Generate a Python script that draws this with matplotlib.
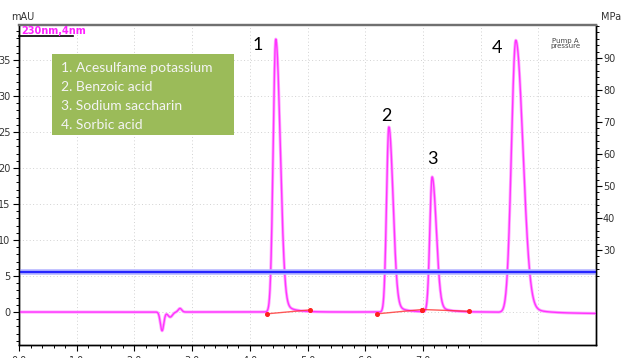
import numpy as np
import matplotlib
matplotlib.use("Agg")
import matplotlib.pyplot as plt
from matplotlib.patches import Rectangle
from matplotlib.ticker import FixedLocator

# ===============================
# DATA
# ===============================
# peaks: retention time (min), height (mAU), left / right width, tail fraction, tail constant
peak_labels = ["1", "2", "3", "4"]
peak_rt = [4.45, 6.41, 7.16, 8.61]
peak_height = [37.9, 25.7, 18.75, 37.8]
peak_sl = [0.045, 0.040, 0.040, 0.075]
peak_sr = [0.075, 0.070, 0.070, 0.120]
peak_tail = [0.06, 0.07, 0.07, 0.05]
peak_tau = [0.17, 0.16, 0.18, 0.22]

compound_names = ["1. Acesulfame potassium", "2. Benzoic acid",
                  "3. Sodium saccharin", "4. Sorbic acid"]

# injection disturbance around 2.5 min
dist_t = [2.48, 2.62, 2.79]
dist_h = [-2.6, -0.7, 0.5]
dist_w = [0.030, 0.040, 0.030]

# baseline drift points
drift_t = [0.0, 8.0, 10.0]
drift_y = [0.0, 0.0, -0.2]

# integration baselines (start, end)
integ_t0 = [4.30, 6.21, 6.99]
integ_y0 = [-0.25, -0.25, 0.35]
integ_t1 = [5.05, 6.99, 7.80]
integ_y1 = [0.30, 0.35, 0.10]

pump_pressure = 23.1  # MPa

x_labels = ["0.0", "1.0", "2.0", "3.0", "4.0", "5.0", "6.0", "7.0"]

# ===============================
# BUILD TRACE
# ===============================
t = np.linspace(0, 10, 4001)
signal = np.interp(t, drift_t, drift_y)
for rt, h, sl, sr, fr, tau in zip(peak_rt, peak_height, peak_sl, peak_sr, peak_tail, peak_tau):
    s = np.where(t < rt, sl, sr)
    g = np.exp(-0.5 * ((t - rt) / s) ** 2)
    tail = np.where(t >= rt, np.exp(-(t - rt) / tau), 0.0) * (1 - np.exp(-((t - rt) / sr) ** 2))
    signal += h * g + h * fr * tail
for dt, dh, dw in zip(dist_t, dist_h, dist_w):
    signal += dh * np.exp(-0.5 * ((t - dt) / dw) ** 2)

# ===============================
# FIGURE
# ===============================
W, H = 627, 358
fig = plt.figure(figsize=(W / 100, H / 100), dpi=100)
px = lambda x, y: (x / W, 1 - y / H)

x0, x1, y0, y1 = 19, 596, 25, 345
ax = fig.add_axes([x0 / W, 1 - y1 / H, (x1 - x0) / W, (y1 - y0) / H])
ax.set_xlim(0, 10)
ax.set_ylim(-4.58, 39.86)

# dotted grid
grid_kw = dict(color="#d2d2d2", lw=0.7, ls=(0, (1, 2.5)), zorder=0)
for gx in range(1, 10):
    ax.axvline(gx, **grid_kw)
for gy in range(0, 40, 5):
    ax.axhline(gy, **grid_kw)

# pressure trace on the right axis
ax2 = ax.twinx()
ax2.set_ylim(0.31, 100.3)
ax2.axhline(pump_pressure, color="#b4b4ff", lw=4.0, zorder=1)
ax2.axhline(pump_pressure, color="#2424ff", lw=1.6, zorder=2)

# chromatogram
ax.plot(t, signal, color="#ffa8ff", lw=2.2, zorder=3)
ax.plot(t, signal, color="#ff34ff", lw=1.0, zorder=4)

# integration baselines
for a, b, c, d in zip(integ_t0, integ_y0, integ_t1, integ_y1):
    ax.plot([a, c], [b, d], color="#ff3030", lw=1.0, alpha=0.8, zorder=5)
    ax.plot([a, c], [b, d], ls="none", marker="o", ms=2.6, color="#ff2020", zorder=6)

# peak numbers
peak_label_pos = [(258, 45), (386, 116), (432, 159), (497, 48)]
for lab, (lx, ly) in zip(peak_labels, peak_label_pos):
    fig.text(*px(lx, ly), lab, fontsize=13, family="Lato", ha="center", va="center")

# left axis ticks
ax.yaxis.set_major_locator(FixedLocator(range(0, 40, 5)))
ax.yaxis.set_minor_locator(FixedLocator(range(-4, 40)))
ax.tick_params(axis="y", which="major", direction="out", length=4, width=0.8,
               labelsize=7, labelcolor="#333333", pad=2)
ax.tick_params(axis="y", which="minor", direction="out", length=2.5, width=0.7)

# bottom axis ticks
ax.xaxis.set_major_locator(FixedLocator(range(0, 8)))
ax.xaxis.set_minor_locator(FixedLocator(np.arange(0, 7.81, 0.2)))
ax.set_xticklabels(x_labels)
ax.tick_params(axis="x", which="major", direction="out", length=4, width=0.8,
               labelsize=7, labelcolor="#333333", pad=4)
ax.tick_params(axis="x", which="minor", direction="out", length=2.5, width=0.7)

# right axis ticks
ax2.yaxis.set_major_locator(FixedLocator(range(30, 100, 10)))
ax2.yaxis.set_minor_locator(FixedLocator(range(22, 101, 2)))
ax2.tick_params(axis="y", which="major", direction="out", length=4, width=0.8,
                labelsize=7, labelcolor="#333333", pad=1)
ax2.tick_params(axis="y", which="minor", direction="out", length=2.5, width=0.7)

for a in (ax, ax2):
    a.spines["top"].set_color("#707070")
    a.spines["top"].set_linewidth(1.6)
    for side in ("left", "right", "bottom"):
        a.spines[side].set_linewidth(1.0)

# axis captions
fig.text(*px(23, 17), "mAU", fontsize=7, color="#333333", ha="center", va="center")
fig.text(*px(611, 17), "MPa", fontsize=7, color="#333333", ha="center", va="center")
fig.text(*px(21, 31), "230nm,4nm", fontsize=7, color="#ff20ff", fontweight="bold",
         ha="left", va="center")
fig.add_artist(plt.Line2D([19 / W, 73 / W], [1 - 35.5 / H] * 2, color="black", lw=1.2))
fig.text(*px(565, 43.5), "Pump A\npressure", fontsize=5, color="#444444",
         ha="center", va="center", linespacing=0.8)

# compound legend box
bx0, by0, bx1, by1 = 52, 54, 234, 135
fig.add_artist(Rectangle((bx0 / W, 1 - by1 / H), (bx1 - bx0) / W, (by1 - by0) / H,
                         transform=fig.transFigure, facecolor="#9bbb59", edgecolor="none"))
for i, name in enumerate(compound_names):
    fig.text(*px(61, 68 + 19 * i), name, fontsize=10, family="Lato", color="#f4f4f4",
             ha="left", va="center")

fig.savefig("out.png", dpi=100)
